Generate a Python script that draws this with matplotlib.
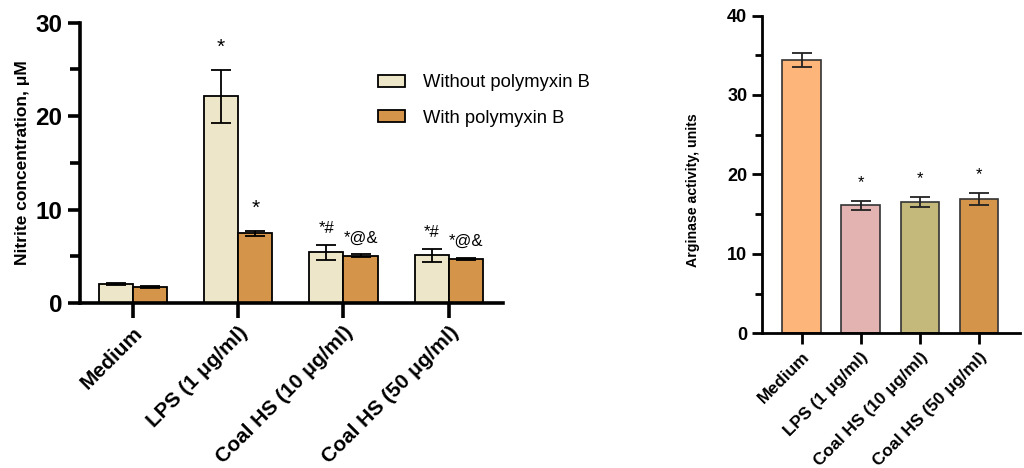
import matplotlib.pyplot as plt
import numpy as np
from matplotlib.ticker import MultipleLocator

plt.rcParams['font.family'] = ['Liberation Sans', 'DejaVu Sans']

# nitrite production, with and without polymyxin B
groups = ['Medium', 'LPS (1 μg/ml)', 'Coal HS (10 μg/ml)', 'Coal HS (50 μg/ml)']
no_pmb = [2.03, 22.1, 5.45, 5.1]
no_pmb_err = [0.08, 2.8, 0.8, 0.7]
pmb = [1.7, 7.45, 5.05, 4.75]
pmb_err = [0.1, 0.3, 0.15, 0.1]
no_pmb_marks = ['', '*', '*#', '*#']
pmb_marks = ['', '*', '*@&', '*@&']

# arginase activity
arg = [34.4, 16.1, 16.5, 16.9]
arg_err = [0.9, 0.55, 0.65, 0.75]
arg_marks = ['', '*', '*', '*']
arg_colors = ['#FDB57A', '#E3B3B2', '#C4B97B', '#D4944A']

fig = plt.figure(figsize=(10.24, 4.68), dpi=100)


def style_axis(ax, lw, tick_len, minor_len):
    for s in ['top', 'right']:
        ax.spines[s].set_visible(False)
    for s in ['left', 'bottom']:
        ax.spines[s].set_linewidth(lw)
    ax.tick_params(axis='both', which='major', direction='out', width=lw, length=tick_len)
    ax.tick_params(axis='y', which='minor', direction='out', width=lw, length=minor_len)


def mark(ax, xpos, top, s):
    # lone asterisks are drawn larger and a bit higher
    if s == '*':
        ax.text(xpos, top + 1.4, s, ha='center', va='bottom', fontsize=15)
    else:
        ax.text(xpos, top + 0.9, s, ha='center', va='bottom', fontsize=12)


# --- left panel ---
ax1 = fig.add_axes([0.078, 0.3526, 0.413, 0.599])
x = np.arange(len(groups))
w = 0.325
err_kw = dict(elinewidth=1.3, capthick=1.3, capsize=7, ecolor='black')
ax1.bar(x - w / 2, no_pmb, w, yerr=no_pmb_err, color='#EDE6C8', edgecolor='black',
        linewidth=1.3, error_kw=err_kw, label='Without polymyxin B')
ax1.bar(x + w / 2, pmb, w, yerr=pmb_err, color='#D4944A', edgecolor='black',
        linewidth=1.3, error_kw=err_kw, label='With polymyxin B')
for i in range(len(groups)):
    if no_pmb_marks[i]:
        mark(ax1, x[i] - w / 2, no_pmb[i] + no_pmb_err[i], no_pmb_marks[i])
    if pmb_marks[i]:
        mark(ax1, x[i] + w / 2, pmb[i] + pmb_err[i], pmb_marks[i])
ax1.set_xlim(-0.503, 3.513)
ax1.set_ylim(0, 30)
ax1.yaxis.set_major_locator(MultipleLocator(10))
ax1.yaxis.set_minor_locator(MultipleLocator(5))
ax1.set_xticks(x)
ax1.set_xticklabels(groups, rotation=45, ha='right', rotation_mode='anchor',
                    fontsize=15, fontweight='bold')
for t in ax1.get_yticklabels():
    t.set_fontsize(17.5)
    t.set_fontweight('bold')
ax1.set_ylabel('Nitrite concentration, μM', fontsize=12.5, fontweight='bold', labelpad=4)
style_axis(ax1, 2.6, 9, 7)
ax1.tick_params(axis='x', length=11)
ax1.legend(loc='upper left', bbox_to_anchor=(0.665, 0.875), frameon=False, fontsize=13.2,
           handlelength=1.5, handleheight=0.6, handletextpad=1.0, labelspacing=1.0)

# --- right panel ---
ax2 = fig.add_axes([0.744, 0.2878, 0.252, 0.679])
x2 = np.arange(len(groups))
ax2.bar(x2, arg, 0.65, yerr=arg_err, color=arg_colors, edgecolor='#333333', linewidth=1.2,
        error_kw=dict(elinewidth=1.3, capthick=1.3, capsize=7, ecolor='#222222'))
for i in range(len(groups)):
    if arg_marks[i]:
        ax2.text(x2[i], arg[i] + arg_err[i] + 1.4, arg_marks[i], ha='center', va='bottom', fontsize=12)
ax2.set_xlim(-0.67, 3.69)
ax2.set_ylim(0, 40)
ax2.yaxis.set_major_locator(MultipleLocator(10))
ax2.yaxis.set_minor_locator(MultipleLocator(5))
ax2.set_xticks(x2)
ax2.set_xticklabels(groups, rotation=45, ha='right', rotation_mode='anchor',
                    fontsize=12.5, fontweight='bold')
for t in ax2.get_yticklabels():
    t.set_fontsize(13)
    t.set_fontweight('bold')
ax2.set_ylabel('Arginase activity, units', fontsize=10.2, fontweight='bold')
ax2.yaxis.set_label_coords(-0.24, 0.45)
style_axis(ax2, 2.0, 7, 5)
ax2.tick_params(axis='x', length=8)

fig.savefig('out.png', dpi=100)
